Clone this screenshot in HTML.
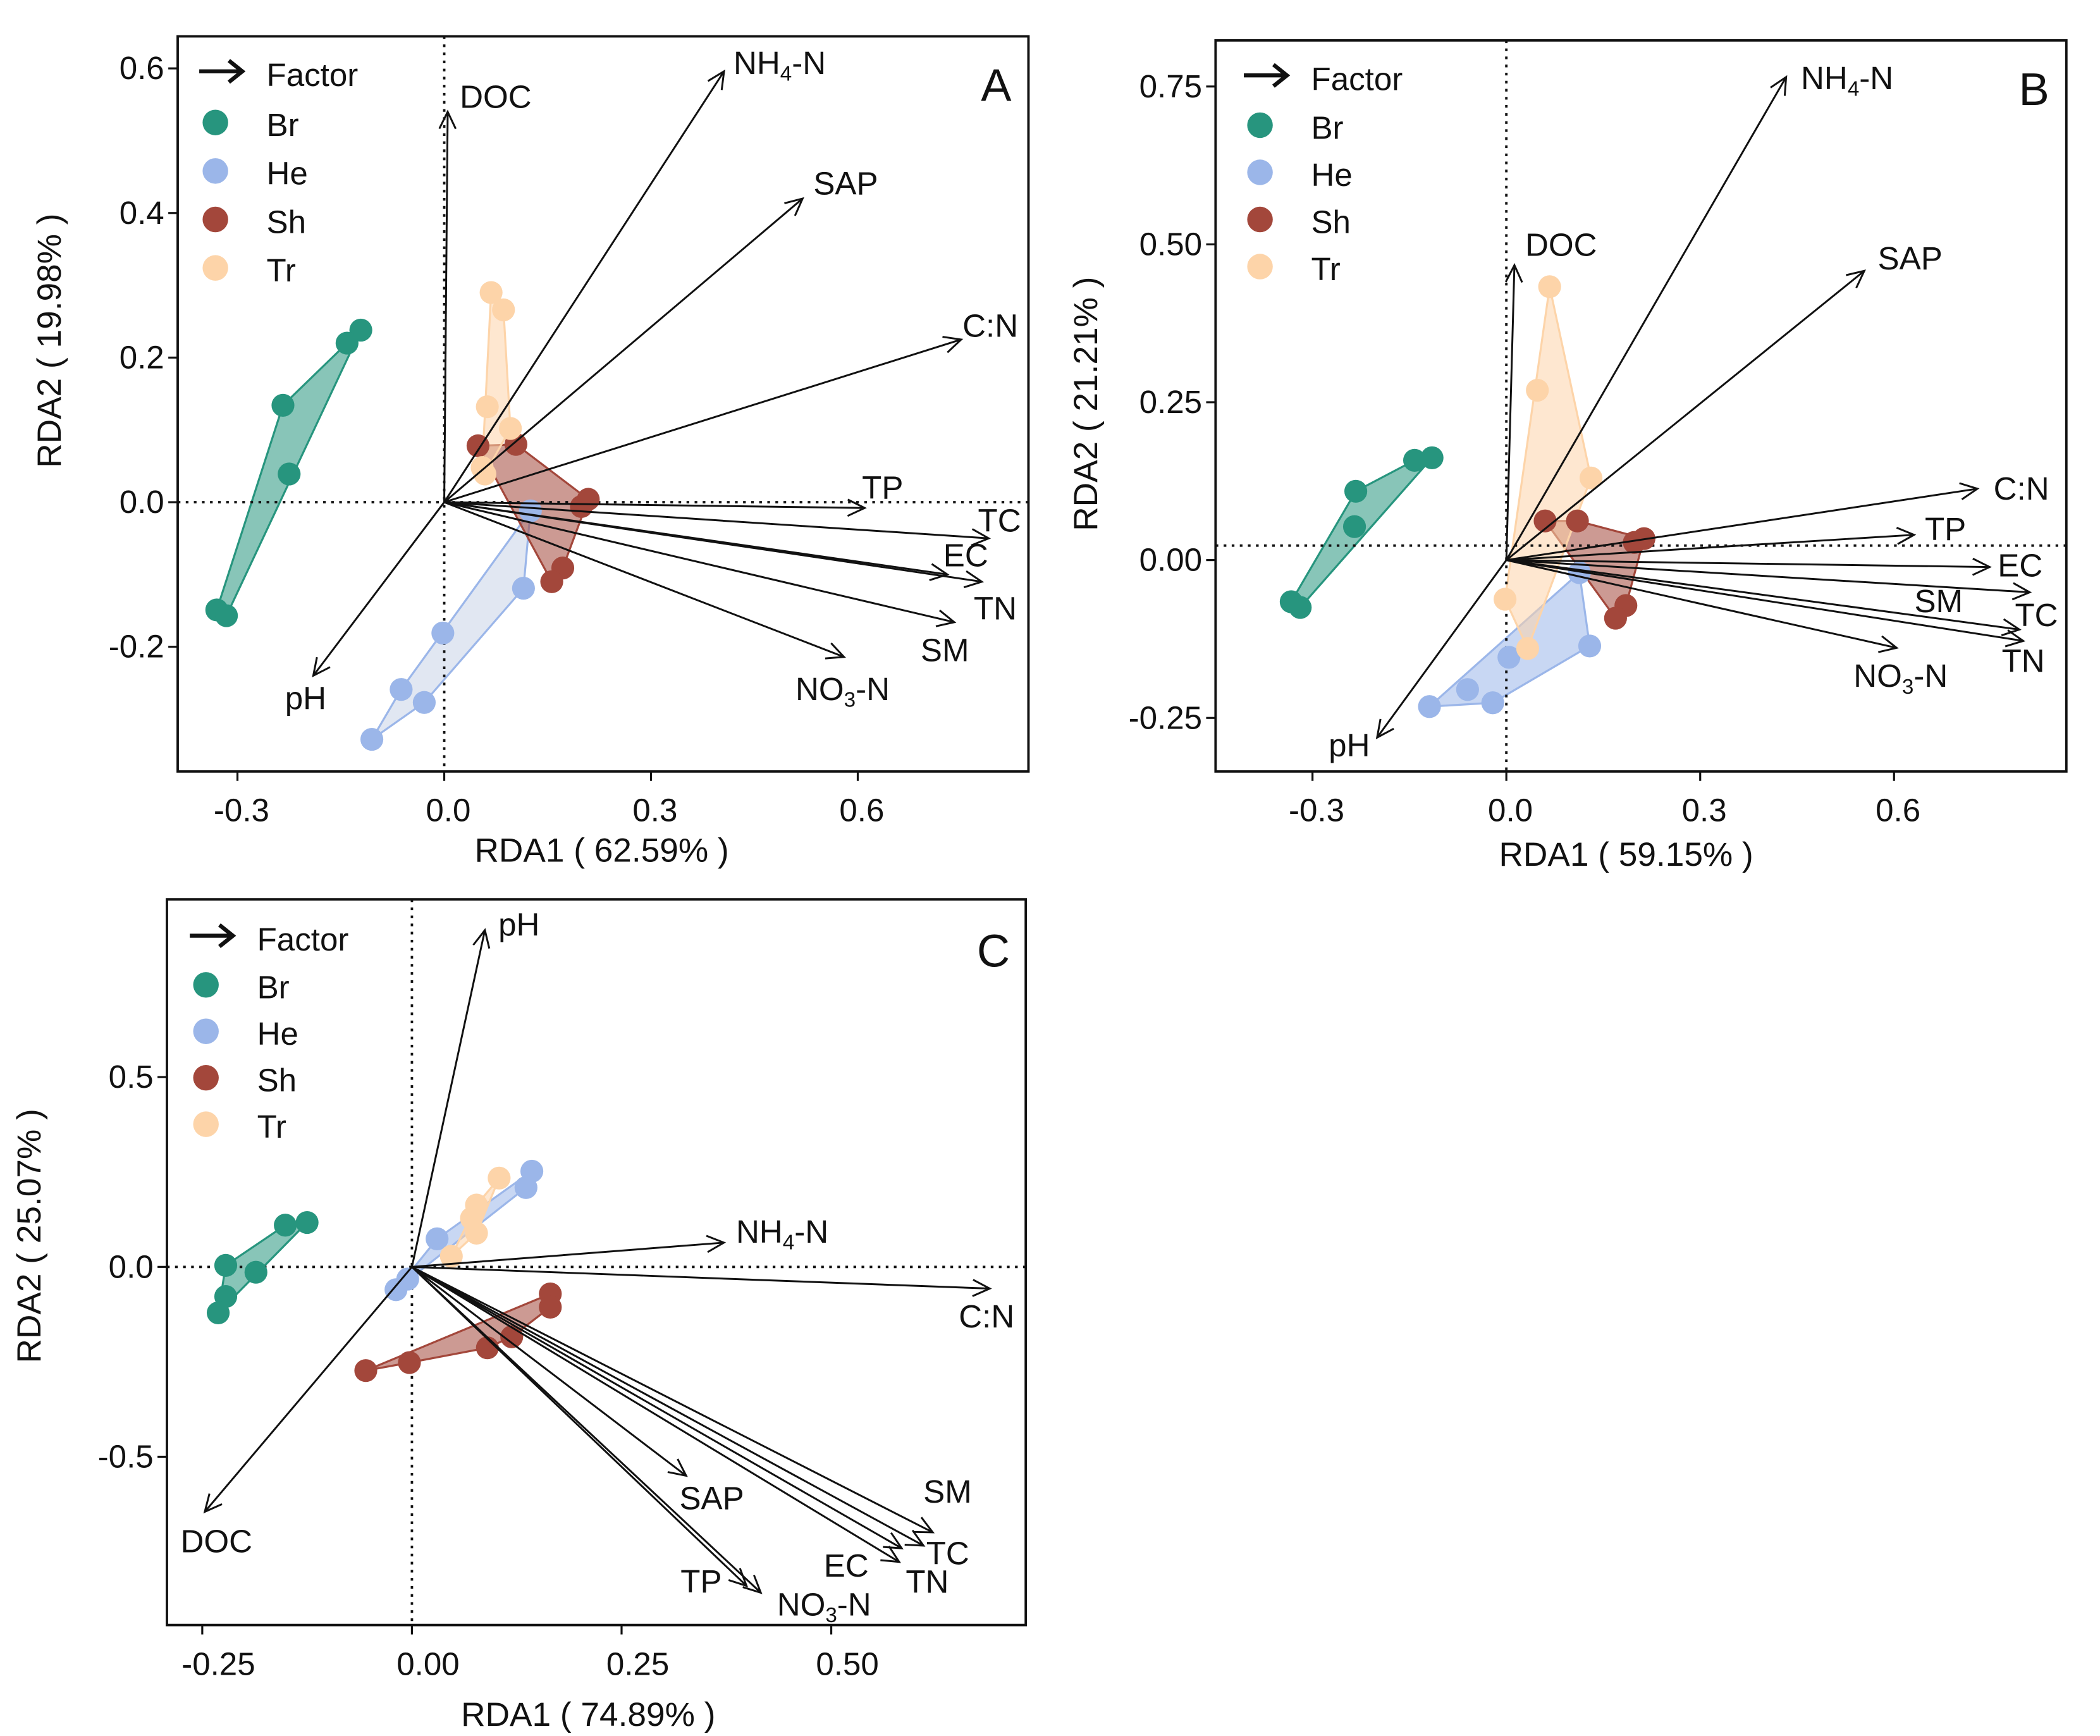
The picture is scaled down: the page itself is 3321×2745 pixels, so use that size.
<!DOCTYPE html>
<html><head><meta charset="utf-8"><style>
html,body{margin:0;padding:0;background:#fff}
svg{display:block}
text{font-family:"Liberation Sans",Arial,sans-serif;fill:#111}
</style></head><body>
<svg id="fig" xmlns="http://www.w3.org/2000/svg" width="3321" height="2745" viewBox="0 0 1560 1289.4" preserveAspectRatio="none"></svg>
<script>
// ---- shared ----
const groupNames = ["Br","He","Sh","Tr"];
const groupColors = ["#27957e","#9bb6e9","#a3473b","#fdd4a9"];
// ---- Panel A data ----
const aXTicks = [-0.3,0.0,0.3,0.6];
const aXTickLabels = ["-0.3","0.0","0.3","0.6"];
const aYTicks = [0.6,0.4,0.2,0.0,-0.2];
const aYTickLabels = ["0.6","0.4","0.2","0.0","-0.2"];
const aArrowNames = ["DOC","NH4-N","SAP","C:N","TP","TC","EC","TN","SM","NO3-N","pH"];
const aArrowX = [0.005,0.406,0.52,0.75,0.61,0.79,0.73,0.78,0.74,0.58,-0.19];
const aArrowY = [0.54,0.596,0.42,0.225,-0.008,-0.05,-0.10,-0.11,-0.166,-0.214,-0.24];
const aBrX=[-0.121,-0.141,-0.234,-0.225,-0.330,-0.316], aBrY=[0.238,0.220,0.134,0.039,-0.149,-0.157];
const aHeX=[-0.105,-0.0625,-0.029,-0.002,0.115,0.125], aHeY=[-0.328,-0.259,-0.277,-0.181,-0.119,-0.012];
const aShX=[0.049,0.104,0.199,0.209,0.172,0.156], aShY=[0.078,0.080,-0.006,0.004,-0.091,-0.110];
const aTrX=[0.068,0.086,0.0625,0.096,0.055,0.059], aTrY=[0.29,0.266,0.132,0.102,0.048,0.039];
// ---- Panel B data ----
const bXTicks = [-0.3,0.0,0.3,0.6];
const bXTickLabels = ["-0.3","0.0","0.3","0.6"];
const bYTicks = [0.75,0.50,0.25,0.00,-0.25];
const bYTickLabels = ["0.75","0.50","0.25","0.00","-0.25"];
const bArrowNames = ["NH4-N","DOC","SAP","C:N","TP","EC","SM","TC","TN","NO3-N","pH"];
const bArrowX = [0.433,0.0125,0.554,0.729,0.631,0.748,0.794,0.81,0.80,0.604,-0.20];
const bArrowY = [0.765,0.467,0.458,0.113,0.04,-0.011,-0.11,-0.051,-0.128,-0.139,-0.281];
const bBrX=[-0.115,-0.142,-0.233,-0.235,-0.333,-0.319], bBrY=[0.162,0.158,0.109,0.053,-0.066,-0.075];
const bHeX=[-0.119,-0.06,-0.021,0.004,0.129,0.113], bHeY=[-0.232,-0.205,-0.226,-0.154,-0.136,-0.02];
const bShX=[0.06,0.11,0.198,0.213,0.185,0.169], bShY=[0.062,0.062,0.028,0.034,-0.072,-0.092];
const bTrX=[0.067,0.048,0.131,-0.002,0.033], bTrY=[0.433,0.269,0.13,-0.062,-0.14];
// ---- Panel C data ----
const cXTicks = [-0.25,0.0,0.25,0.5];
const cXTickLabels = ["-0.25","0.00","0.25","0.50"];
const cYTicks = [0.5,0.0,-0.5];
const cYTickLabels = ["0.5","0.0","-0.5"];
const cArrowNames = ["pH","NH4-N","C:N","SAP","SM","TC","TN","EC","TP","NO3-N","DOC"];
const cArrowX = [0.087,0.372,0.689,0.327,0.621,0.61,0.584,0.581,0.399,0.416,-0.247];
const cArrowY = [0.887,0.064,-0.057,-0.55,-0.699,-0.734,-0.741,-0.777,-0.84,-0.858,-0.645];
const cBrX=[-0.125,-0.151,-0.222,-0.186,-0.222,-0.231], cBrY=[0.117,0.11,0.004,-0.014,-0.078,-0.121];
const cHeX=[0.143,0.136,0.030,-0.019,-0.005], cHeY=[0.252,0.209,0.074,-0.060,-0.032];
const cShX=[0.165,0.165,0.119,0.09,-0.003,-0.055], cShY=[-0.071,-0.106,-0.184,-0.213,-0.252,-0.273];
const cTrX=[0.104,0.077,0.077,0.047,0.071], cTrY=[0.234,0.163,0.089,0.028,0.128];

const NS="http://www.w3.org/2000/svg";
const svg=document.getElementById('fig');
function mk(tag,attrs,parent){const e=document.createElementNS(NS,tag);for(const k in attrs)e.setAttribute(k,attrs[k]);(parent||svg).appendChild(e);return e;}
function hull(pts){pts=pts.slice().sort((a,b)=>a[0]-b[0]||a[1]-b[1]);const cr=(o,a,b)=>(a[0]-o[0])*(b[1]-o[1])-(a[1]-o[1])*(b[0]-o[0]);const lo=[],up=[];for(const p of pts){while(lo.length>=2&&cr(lo[lo.length-2],lo[lo.length-1],p)<=0)lo.pop();lo.push(p);}for(let i=pts.length-1;i>=0;i--){const p=pts[i];while(up.length>=2&&cr(up[up.length-2],up[up.length-1],p)<=0)up.pop();up.push(p);}up.pop();lo.pop();return lo.concat(up);}
function labelText(g,name,x,y,size){
  const t=mk('text',{x:x,y:y,'font-size':size},g);
  const m=name.match(/^(NH|NO)(\d)(-N)$/);
  if(m){t.appendChild(document.createTextNode(m[1]));const s=mk('tspan',{'font-size':size*0.65,dy:5},t);s.textContent=m[2];const r=mk('tspan',{dy:-5},t);r.textContent=m[3];}
  else t.textContent=name;
  return t;
}
function panel(cfg){
  const g=mk('g',{});
  
  
  const sx=v=>cfg.x0+v*cfg.kx, sy=v=>cfg.y0-v*cfg.ky;
  const [L,T,R,B]=cfg.box;
  cfg.groups.forEach((gr,i)=>{
    const pts=gr[0].map((x,j)=>[sx(x),sy(gr[1][j])]);
    const h=hull(pts);
    const fillc=(cfg.hullFill&&cfg.hullFill[i])||groupColors[i];
    const p=mk('polygon',{points:h.map(q=>q.join(',')).join(' '),fill:fillc,'fill-opacity':0.55,stroke:groupColors[i],'stroke-width':1.5},g);
    
    
  });
  const hz=sy(cfg.hline||0);
  const hl=mk('line',{x1:L,x2:R,y1:hz,y2:hz,stroke:'#111','stroke-width':1.8,'stroke-dasharray':'2,4'},g);
  
  
  const vl=mk('line',{x1:sx(0),x2:sx(0),y1:T,y2:B,stroke:'#111','stroke-width':1.8,'stroke-dasharray':'2,4'},g);
  
  
  cfg.groups.forEach((gr,i)=>{
    gr[0].forEach((x,j)=>{
      const c=mk('circle',{cx:sx(x),cy:sy(gr[1][j]),r:8.5,fill:groupColors[i]},g);
      
      
    });
  });
  const ox=sx(0), oy=sy(0);
  cfg.arrowNames.forEach((n,i)=>{
    const tx=sx(cfg.ax[i]), ty=sy(cfg.ay[i]);
    const a=Math.atan2(ty-oy,tx-ox), hl2=14, sp=0.45;
    const d=`M${ox},${oy}L${tx},${ty}M${tx-hl2*Math.cos(a-sp)},${ty-hl2*Math.sin(a-sp)}L${tx},${ty}L${tx-hl2*Math.cos(a+sp)},${ty-hl2*Math.sin(a+sp)}`;
    const p=mk('path',{d:d,fill:'none',stroke:'#111','stroke-width':1.4},g);
    
    
    const off=cfg.offs[i];
    const t=labelText(g,n,tx+off[0],ty+off[1],24);
    
    
  });
  const bx=mk('rect',{x:L,y:T,width:R-L,height:B-T,fill:'none',stroke:'#111','stroke-width':1.8},g);
  
  
  cfg.xt.forEach((v,i)=>{
    const x=sx(v);
    mk('line',{x1:x,x2:x,y1:B,y2:B+7,stroke:'#111','stroke-width':1.5},g);
    const t=mk('text',{x:x+cfg.xlo,y:B+37,'font-size':24,'text-anchor':'middle'},g);
    t.textContent=cfg.xtl[i];
    
    
  });
  cfg.yt.forEach((v,i)=>{
    const y=sy(v);
    mk('line',{x1:L-7,x2:L,y1:y,y2:y,stroke:'#111','stroke-width':1.5},g);
    const t=mk('text',{x:L-10,y:y+8,'font-size':24,'text-anchor':'end'},g);
    t.textContent=cfg.ytl[i];
    
    
  });
  const xt=mk('text',{x:cfg.xtitle[0],y:cfg.xtitle[1],'font-size':25,'text-anchor':'middle'},g);
  xt.textContent=cfg.xlab;
  
  
  const yt=mk('text',{x:0,y:0,'font-size':25,'text-anchor':'middle',transform:`translate(${cfg.ytitle[0]},${cfg.ytitle[1]}) rotate(-90)`},g);
  yt.textContent=cfg.ylab;
  
  
  const lt=mk('text',{x:cfg.letterPos[0],y:cfg.letterPos[1],'font-size':34,'text-anchor':'middle'},g);
  lt.textContent=cfg.letter;
  
  
  const lg=mk('g',{},g);
  
  
  const [lx,ly,step]=cfg.legend;
  mk('path',{d:`M${lx-12},${ly}L${lx+20},${ly}M${lx+10},${ly-8}L${lx+20},${ly}L${lx+10},${ly+8}`,fill:'none',stroke:'#111','stroke-width':3},lg);
  const ft=mk('text',{x:lx+38,y:ly+11,'font-size':24},lg);
  ft.textContent='Factor';
  
  
  groupNames.forEach((n,i)=>{
    const y=ly+step*(i+1)+2;
    mk('circle',{cx:lx,cy:y,r:9.5,fill:groupColors[i]},lg);
    const t=mk('text',{x:lx+38,y:y+10,'font-size':24},lg);
    t.textContent=n;
    
    
  });
}
panel({letter:'A',box:[132,27,764,573],x0:330,kx:512,y0:373,ky:537,xlo:3,
  xt:aXTicks,xtl:aXTickLabels,yt:aYTicks,ytl:aYTickLabels,
  arrowNames:aArrowNames,ax:aArrowX,ay:aArrowY,
  hullFill:[null,"#c9d3e8",null,null],
  offs:[[9,-3],[7,2],[8,-3],[1,-2],[-2,-7],[-8,-5],[-3,-6],[-6,28],[-25,29],[-36,32],[-21,25]],
  groups:[[aBrX,aBrY],[aHeX,aHeY],[aShX,aShY],[aTrX,aTrY]],
  xtitle:[447,640],ytitle:[45,253],xlab:'RDA1 ( 62.59% )',ylab:'RDA2 ( 19.98% )',letterPos:[740,75],legend:[160,53,36]});
panel({letter:'B',box:[903,30,1535,573],x0:1119,kx:480,y0:416,ky:469,xlo:3,hline:0.023,
  xt:bXTicks,xtl:bXTickLabels,yt:bYTicks,ytl:bYTickLabels,
  arrowNames:bArrowNames,ax:bArrowX,ay:bArrowY,
  offs:[[11,9],[8,-7],[10,-1],[12,8],[8,4],[6,7],[-78,-13],[-11,25],[-16,23],[-32,29],[-36,14]],
  groups:[[bBrX,bBrY],[bHeX,bHeY],[bShX,bShY],[bTrX,bTrY]],
  xtitle:[1208,643],ytitle:[815,300],xlab:'RDA1 ( 59.15% )',ylab:'RDA2 ( 21.21% )',letterPos:[1511,78],legend:[936,56,35]});
panel({letter:'C',box:[124,668,762,1207],x0:306,kx:623,y0:941,ky:282,xlo:12,
  xt:cXTicks,xtl:cXTickLabels,yt:cYTicks,ytl:cYTickLabels,
  arrowNames:cArrowNames,ax:cArrowX,ay:cArrowY,
  offs:[[10,4],[9,0],[-23,29],[-5,25],[-7,-22],[2,14],[3,33],[-56,11],[-49,5],[12,17],[-18,30]],
  groups:[[cBrX,cBrY],[cHeX,cHeY],[cShX,cShY],[cTrX,cTrY]],
  xtitle:[437,1282],ytitle:[30,918],xlab:'RDA1 ( 74.89% )',ylab:'RDA2 ( 25.07% )',letterPos:[738,718],legend:[153,695,34.5]});
</script>
</body></html>
